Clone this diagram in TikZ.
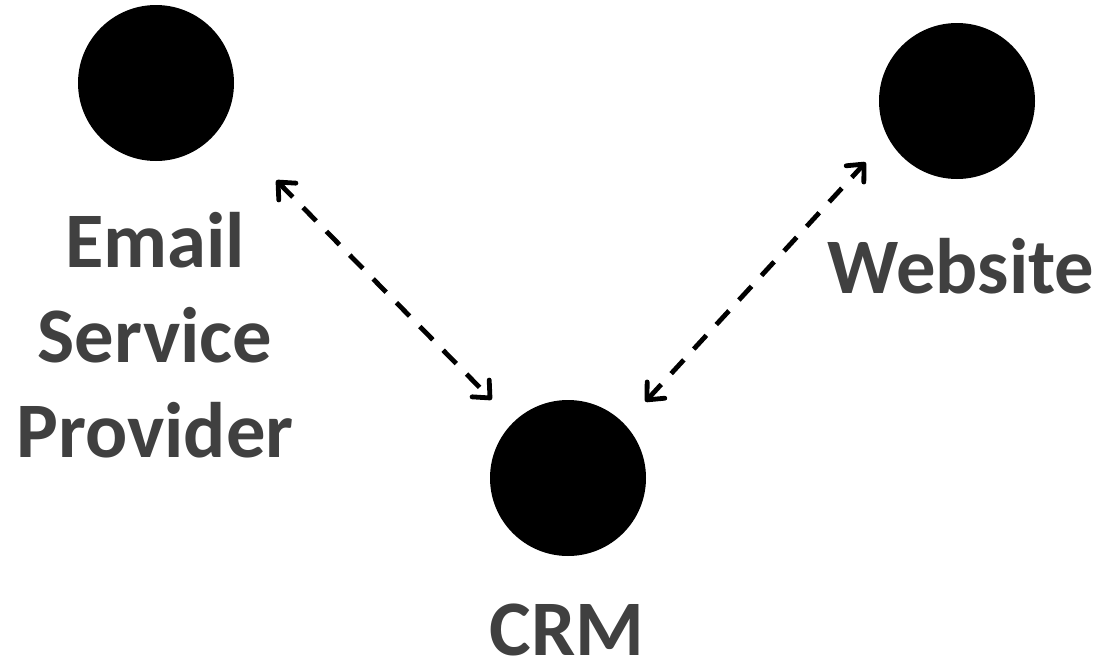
\documentclass[tikz,border=0pt]{standalone}
\usepackage{fontspec}
\setmainfont{Carlito}
\usepackage{tikz}
\usetikzlibrary{arrows.meta, positioning}
\definecolor{ink}{RGB}{64, 64, 64}

\tikzset{
  hub/.style={circle, fill=black, inner sep=0pt, minimum size=117pt},
  tag/.style={text=ink, align=center, inner sep=0pt,
              font=\fontsize{59pt}{71pt}\selectfont\bfseries},
  link/.style={line width=3.6pt, dash pattern=on 14pt off 11pt,
               {Straight Barb[round, length=10pt, width=18pt]}-{Straight Barb[round, length=10pt, width=18pt]}}
}

\begin{document}
\begin{tikzpicture}[x=0.75pt, y=-0.75pt]
  \useasboundingbox (0, 0) rectangle (1101, 664);

  \node[hub] (email) at (156, 83) {};
  \node[hub] (web)   at (957, 101) {};
  \node[hub] (crm)   at (568, 478) {};

  \node[tag, anchor=base] (emaillabel) at (155, 457) {Email\\Service\\Provider};
  \node[tag, anchor=base] (weblabel)   at (961, 293) {Website};
  \node[tag, anchor=base] (crmlabel)   at (567, 655) {CRM};

  \draw[link] ([shift={(65, 42)}]email.south east) -- ([shift={(-21, -23)}]crm.north west);
  \draw[link] ([shift={(22, -21)}]crm.north east) -- ([shift={(-36, 6)}]web.south west);

\end{tikzpicture}
\end{document}
